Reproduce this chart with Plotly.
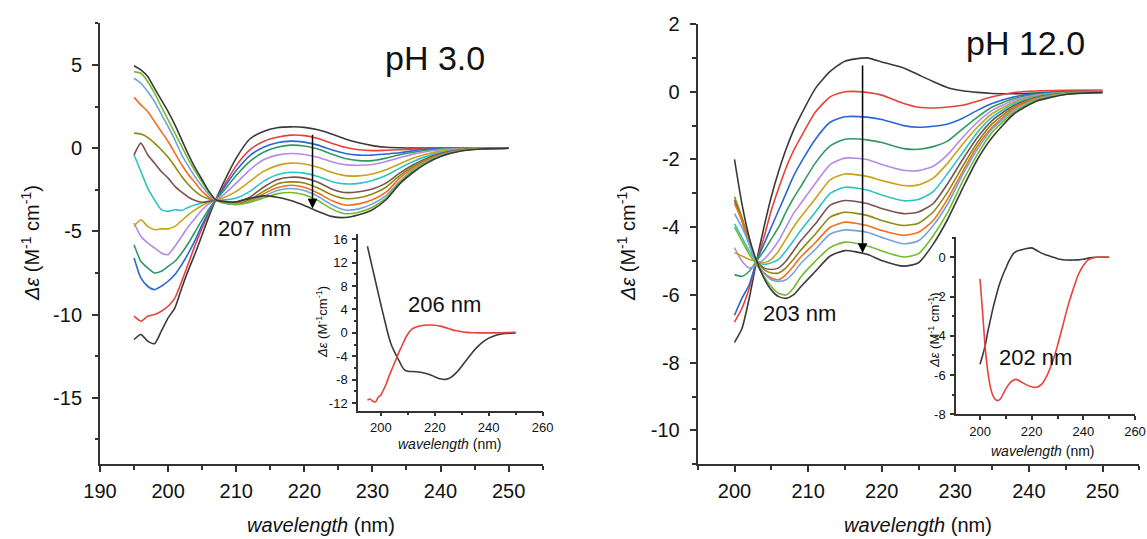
import plotly.graph_objects as go

W, H = 1147, 539

# ---------------- data ----------------
# Left panel (pH 3.0)
wl_left = [195, 196, 197, 198, 199, 200, 201, 202, 203, 204, 205, 206, 207, 208, 210, 212, 214,
           216, 218, 220, 222, 224, 226, 228, 230, 232, 234, 236, 238, 240, 243, 246, 250]
left_series = [
    [-11.5, -11.2, -11.6, -11.75, -11.0, -10.2, -9.6, -8.4, -7.3, -6.3, -5.2, -4.1, -3.1, -2.2, -0.6, 0.55, 1.0,
     1.22, 1.28, 1.25, 1.1, 0.85, 0.55, 0.32, 0.15, 0.05, 0.02, 0.0, 0.0, 0.0, 0.0, 0.02, 0.02],
    [-10.1, -10.4, -10.1, -10.0, -9.8, -9.5, -9.0, -8.0, -6.9, -5.8, -4.8, -3.9, -3.1, -2.4, -1.05, -0.1, 0.4,
     0.65, 0.78, 0.75, 0.58, 0.3, 0.05, -0.1, -0.15, -0.13, -0.1, -0.05, -0.02, 0.0, 0.0, 0.0, 0.0],
    [-6.6, -7.8, -8.3, -8.5, -8.3, -8.0, -7.6, -7.0, -6.3, -5.5, -4.6, -3.8, -3.1, -2.5, -1.35, -0.45, 0.05,
     0.32, 0.42, 0.36, 0.18, -0.1, -0.32, -0.42, -0.42, -0.35, -0.28, -0.15, -0.07, -0.03, 0.0, 0.0, 0.0],
    [-5.8, -6.8, -7.2, -7.5, -7.4, -7.1, -6.8, -6.3, -5.7, -5.0, -4.3, -3.65, -3.1, -2.65, -1.65, -0.8, -0.25,
     0.05, 0.18, 0.13, -0.05, -0.35, -0.62, -0.75, -0.75, -0.6, -0.4, -0.25, -0.13, -0.06, -0.02, 0.0, 0.0],
    [-4.5, -5.3, -5.7, -6.0, -6.3, -6.4, -5.9, -5.3, -4.7, -4.2, -3.7, -3.35, -3.1, -2.85, -2.1, -1.3, -0.7,
     -0.42, -0.32, -0.38, -0.55, -0.82, -1.0, -1.03, -0.98, -0.8, -0.58, -0.36, -0.2, -0.1, -0.03, 0.0, 0.0],
    [-4.7, -4.3, -4.7, -4.9, -4.85, -4.85, -4.7, -4.35, -4.0, -3.7, -3.45, -3.25, -3.1, -3.0, -2.6, -2.0, -1.4,
     -1.05, -0.9, -0.95, -1.15, -1.45, -1.65, -1.67, -1.55, -1.3, -0.95, -0.6, -0.35, -0.18, -0.05, -0.01, 0.0],
    [-0.4, -1.4, -2.4, -3.1, -3.7, -3.8, -3.7, -3.75, -3.55, -3.4, -3.3, -3.2, -3.12, -3.12, -3.0, -2.6, -2.0,
     -1.6, -1.45, -1.5, -1.7, -2.0, -2.15, -2.12, -1.95, -1.65, -1.2, -0.8, -0.48, -0.26, -0.08, -0.02, 0.0],
    [-0.4, 0.3, -0.4, -0.9, -1.4, -1.8, -2.3, -2.65, -2.95, -3.15, -3.25, -3.2, -3.15, -3.2, -3.25, -2.95, -2.35,
     -1.9, -1.75, -1.8, -2.05, -2.45, -2.67, -2.62, -2.45, -2.1, -1.5, -1.0, -0.6, -0.33, -0.1, -0.03, 0.0],
    [0.9, 0.85, 0.65, 0.3, -0.1, -0.55, -1.1, -1.7, -2.2, -2.6, -2.9, -3.05, -3.12, -3.25, -3.32, -3.1, -2.6,
     -2.15, -2.03, -2.1, -2.4, -2.8, -3.03, -2.98, -2.75, -2.35, -1.65, -1.1, -0.68, -0.38, -0.12, -0.03, 0.0],
    [3.05, 2.6, 2.2, 1.6, 1.0, 0.4, -0.3, -1.0, -1.6, -2.1, -2.6, -2.95, -3.12, -3.28, -3.38, -3.2, -2.75,
     -2.38, -2.23, -2.35, -2.7, -3.15, -3.42, -3.35, -3.1, -2.65, -1.8, -1.2, -0.75, -0.42, -0.14, -0.04, 0.0],
    [4.2, 3.9, 3.4, 2.8, 2.05, 1.3, 0.5, -0.4, -1.1, -1.75, -2.3, -2.8, -3.12, -3.28, -3.38, -3.25, -2.9,
     -2.55, -2.43, -2.55, -2.9, -3.4, -3.72, -3.65, -3.35, -2.85, -2.0, -1.3, -0.8, -0.45, -0.15, -0.04, 0.0],
    [4.6, 4.5, 4.0, 3.3, 2.5, 1.7, 0.9, 0.1, -0.7, -1.4, -2.05, -2.65, -3.1, -3.28, -3.38, -3.25, -3.0,
     -2.75, -2.67, -2.8, -3.15, -3.65, -3.94, -3.85, -3.55, -3.0, -2.05, -1.35, -0.85, -0.48, -0.16, -0.04, 0.0],
    [4.95, 4.7, 4.3, 3.6, 2.9, 2.2, 1.4, 0.5, -0.4, -1.2, -1.9, -2.6, -3.1, -3.2, -3.22, -3.02, -2.87,
     -2.95, -3.15, -3.45, -3.8, -4.1, -4.17, -4.0, -3.7, -3.1, -2.15, -1.45, -0.9, -0.5, -0.17, -0.05, 0.0],
]

# Right panel (pH 12.0)
wl_right = [200, 201, 202, 203, 204, 205, 206, 207, 208, 209, 211, 213, 215, 218, 220, 223, 225, 227,
            229, 231, 233, 235, 238, 241, 245, 250]
right_series = [
    [-7.4, -7.0, -6.1, -5.0, -4.0, -3.1, -2.35, -1.7, -1.15, -0.7, 0.1, 0.6, 0.9, 1.0, 0.88, 0.7, 0.5, 0.3,
     0.12, 0.03, -0.02, -0.05, -0.06, -0.04, 0.0, 0.0],
    [-6.8, -6.4, -5.8, -5.0, -4.3, -3.5, -2.85, -2.25, -1.75, -1.35, -0.6, -0.15, 0.0, -0.02, -0.1, -0.35, -0.46, -0.48,
     -0.45, -0.4, -0.28, -0.15, -0.02, 0.02, 0.04, 0.05],
    [-6.6, -6.1, -5.7, -5.0, -4.5, -4.0, -3.5, -3.0, -2.5, -2.1, -1.4, -0.9, -0.74, -0.75, -0.82, -1.0, -1.05, -1.02,
     -0.95, -0.78, -0.55, -0.35, -0.15, -0.05, 0.0, 0.0],
    [-5.4, -5.45, -5.3, -5.0, -4.7, -4.35, -4.0, -3.55, -3.15, -2.8, -2.1, -1.6, -1.4, -1.42, -1.5, -1.68, -1.7, -1.62,
     -1.45, -1.1, -0.75, -0.45, -0.2, -0.08, -0.02, 0.0],
    [-4.6, -5.0, -5.2, -5.1, -4.95, -4.7, -4.4, -4.0, -3.6, -3.3, -2.7, -2.15, -1.96, -2.0, -2.15, -2.32, -2.33, -2.2,
     -1.85, -1.35, -0.9, -0.55, -0.25, -0.1, -0.03, -0.01],
    [-4.75, -4.85, -4.95, -5.0, -5.05, -4.95, -4.7, -4.35, -4.0, -3.7, -3.15, -2.6, -2.43, -2.5, -2.62, -2.77, -2.75, -2.55,
     -2.1, -1.55, -1.05, -0.65, -0.3, -0.12, -0.04, -0.01],
    [-3.9, -4.3, -4.7, -5.0, -5.1, -5.05, -4.95, -4.7, -4.4, -4.1, -3.55, -3.0, -2.82, -2.9, -3.05, -3.22, -3.18, -2.95,
     -2.4, -1.8, -1.2, -0.75, -0.35, -0.14, -0.04, -0.01],
    [-3.2, -3.8, -4.5, -5.0, -5.2, -5.25, -5.2, -5.0, -4.7, -4.4, -3.9, -3.35, -3.21, -3.3, -3.45, -3.6, -3.55, -3.3,
     -2.7, -2.0, -1.35, -0.85, -0.4, -0.16, -0.05, -0.02],
    [-3.1, -3.7, -4.4, -5.0, -5.25, -5.35, -5.35, -5.2, -4.95, -4.68, -4.2, -3.7, -3.56, -3.65, -3.8, -3.95, -3.88, -3.55,
     -2.95, -2.2, -1.5, -0.95, -0.45, -0.18, -0.05, -0.02],
    [-3.3, -3.8, -4.5, -5.05, -5.35, -5.5, -5.55, -5.4, -5.15, -4.88, -4.45, -4.0, -3.85, -3.95, -4.1, -4.24, -4.15, -3.8,
     -3.15, -2.35, -1.6, -1.05, -0.5, -0.2, -0.06, -0.02],
    [-3.6, -4.0, -4.5, -5.05, -5.35, -5.55, -5.6, -5.55, -5.35, -5.07, -4.65, -4.2, -4.08, -4.15, -4.3, -4.49, -4.4, -3.95,
     -3.3, -2.45, -1.7, -1.1, -0.55, -0.22, -0.06, -0.02],
    [-4.0, -4.4, -4.8, -5.1, -5.45, -5.75, -5.95, -6.0, -5.8, -5.47, -5.0, -4.6, -4.44, -4.55, -4.7, -4.88, -4.78, -4.25,
     -3.55, -2.65, -1.85, -1.2, -0.6, -0.25, -0.07, -0.02],
    [-2.0, -3.3, -4.3, -5.0, -5.5, -5.85, -6.05, -6.1, -6.0, -5.76, -5.3, -4.85, -4.69, -4.8, -4.98, -5.15, -5.05, -4.5,
     -3.75, -2.85, -2.0, -1.35, -0.65, -0.28, -0.08, -0.02],
]

# Left inset
wl_inset_left = [195, 196, 197, 198, 199, 200, 201, 202, 203, 204, 205, 206, 207, 208, 209, 210, 211, 212,
                 214, 216, 218, 220, 222, 224, 226, 228, 230, 232, 234, 236, 238, 240, 243, 246, 250]
inset_left_black = [14.8, 12.8, 10.8, 8.8, 6.8, 4.8, 2.9, 1.0, -0.8, -2.2, -3.2, -4.1, -5.0, -5.9, -6.4, -6.55,
                    -6.6, -6.6, -6.7, -6.85, -7.1, -7.5, -7.85, -7.95, -7.6, -6.8, -5.7, -4.5, -3.3, -2.3, -1.5,
                    -0.9, -0.35, -0.1, 0.0]
inset_left_red = [-11.5, -11.3, -11.7, -11.8, -11.0, -10.6, -9.7, -8.7, -7.4, -6.3, -5.2, -4.1, -3.0, -2.0, -1.0,
                  -0.2, 0.4, 0.8, 1.15, 1.3, 1.35, 1.3, 1.15, 0.9, 0.6, 0.35, 0.2, 0.08, 0.03, 0.0, 0.0, 0.0,
                  0.0, 0.05, 0.1]

# Right inset
wl_inset_right = [200, 201, 202, 203, 204, 205, 206, 207, 208, 209, 210, 211, 212, 213, 214, 216, 218, 220,
                  222, 224, 226, 228, 230, 232, 234, 236, 238, 240, 242, 245, 250]
inset_right_black = [-5.45, -5.0, -4.5, -3.8, -3.2, -2.6, -2.1, -1.6, -1.2, -0.85, -0.55, -0.25, 0.0, 0.2, 0.3,
                     0.38, 0.45, 0.48, 0.35, 0.2, 0.1, 0.02, -0.07, -0.12, -0.14, -0.14, -0.13, -0.1, -0.04,
                     0.0, 0.0]
inset_right_red = [-1.1, -2.8, -4.6, -5.8, -6.6, -7.05, -7.25, -7.3, -7.2, -6.95, -6.7, -6.5, -6.35, -6.25, -6.22,
                   -6.35, -6.5, -6.6, -6.62, -6.45, -6.0, -5.35, -4.5, -3.5, -2.5, -1.65, -0.9, -0.42, -0.12,
                   0.0, 0.0]

# tick labels (hyphen minus as in the original)
ticks_left_y = [5, 0, -5, -10, -15]
ticks_right_y = [2, 0, -2, -4, -6, -8, -10]
ticks_left_x = [190, 200, 210, 220, 230, 240, 250]
ticks_right_x = [200, 210, 220, 230, 240, 250]
ticks_inset_x = [200, 220, 240, 260]
ticks_inset_left_y = [16, 12, 8, 4, 0, -4, -8, -12]
ticks_inset_right_y = [0, -2, -4, -6, -8]

colors = ['#3a3a3a', '#e8413c', '#2a66d6', '#2e9a62', '#b48ae6', '#c9a21a', '#2cc3c8',
          '#7b5252', '#8c8a14', '#f26f1e', '#74a3dc', '#73bb2e', '#3a3a3a']

# ---------------- figure ----------------
fig = go.Figure()
LW = 1.6
for s, c in zip(left_series, colors):
    fig.add_trace(go.Scatter(x=wl_left, y=s, mode='lines', xaxis='x', yaxis='y',
                             line=dict(color=c, width=LW, shape='spline', smoothing=0.6),
                             showlegend=False, hoverinfo='skip'))
for s, c in zip(right_series, colors):
    fig.add_trace(go.Scatter(x=wl_right, y=s, mode='lines', xaxis='x2', yaxis='y2',
                             line=dict(color=c, width=LW, shape='spline', smoothing=0.6),
                             showlegend=False, hoverinfo='skip'))
fig.add_trace(go.Scatter(x=wl_inset_left, y=inset_left_black, mode='lines', xaxis='x3', yaxis='y3',
                         line=dict(color='#3a3a3a', width=LW, shape='spline', smoothing=0.6), showlegend=False))
fig.add_trace(go.Scatter(x=wl_inset_left, y=inset_left_red, mode='lines', xaxis='x3', yaxis='y3',
                         line=dict(color='#e8413c', width=LW, shape='spline', smoothing=0.6), showlegend=False))
fig.add_trace(go.Scatter(x=wl_inset_right, y=inset_right_black, mode='lines', xaxis='x4', yaxis='y4',
                         line=dict(color='#3a3a3a', width=LW, shape='spline', smoothing=0.6), showlegend=False))
fig.add_trace(go.Scatter(x=wl_inset_right, y=inset_right_red, mode='lines', xaxis='x4', yaxis='y4',
                         line=dict(color='#e8413c', width=LW, shape='spline', smoothing=0.6), showlegend=False))

FONT = 'Liberation Sans, Arial, sans-serif'
AX = '#333333'
TXT = '#111111'


def px(x):
    return x / W


def py(y):
    return 1 - y / H


def axis(domain, rng, tickvals, minor_dtick, size, anchor, tick0=0, ticklen=6, minorlen=3.5, lw=2,
         standoff=4):
    return dict(domain=domain, range=rng, anchor=anchor, automargin=False,
                tickmode='array', tickvals=tickvals, ticktext=[str(v) for v in tickvals],
                showline=True, linecolor=AX, linewidth=lw, ticks='outside', ticklen=ticklen,
                tickwidth=1.5, tickcolor=AX, showgrid=False, zeroline=False,
                ticklabelstandoff=standoff,
                tickfont=dict(family=FONT, size=size, color=TXT),
                minor=dict(dtick=minor_dtick, tick0=tick0, ticks='outside', ticklen=minorlen,
                           tickwidth=1.5, tickcolor=AX, showgrid=False))


fig.update_layout(
    template='none',
    width=W, height=H, margin=dict(l=0, r=0, t=0, b=0, pad=0, autoexpand=False),
    paper_bgcolor='white', plot_bgcolor='rgba(0,0,0,0)', showlegend=False,
    xaxis=axis([px(100), px(542.7)], [190, 255], ticks_left_x, 5, 20, 'y', tick0=190, standoff=2),
    yaxis=axis([py(464.3), py(23)], [-19.0, 7.52], ticks_left_y, 2.5, 20, 'x', standoff=6),
    xaxis2=axis([px(697.7), px(1139.3)], [195, 255], ticks_right_x, 5, 20, 'y2', tick0=190, standoff=2),
    yaxis2=axis([py(464.3), py(24)], [-11.0, 2.0], ticks_right_y, 1, 20, 'x2', standoff=6),
    xaxis3=axis([px(358), px(542.6)], [191.5, 260], ticks_inset_x, 10, 13, 'y3', tick0=200,
                ticklen=4, minorlen=2.5, lw=1.5, standoff=0),
    yaxis3=axis([py(410.7), py(234)], [-13.3, 16.9], ticks_inset_left_y, 2, 13, 'x3',
                ticklen=4, minorlen=2.5, lw=1.5, standoff=2),
    xaxis4=axis([px(956), px(1135)], [190.7, 260], ticks_inset_x, 10, 13, 'y4', tick0=200,
                ticklen=4, minorlen=2.5, lw=1.5, standoff=0),
    yaxis4=axis([py(414.3), py(237.3)], [-8.0, 1.02], ticks_inset_right_y, 1, 13, 'x4',
                ticklen=4, minorlen=2.5, lw=1.5, standoff=2),
)

ylab = '<i>Δε</i> (M<sup>-1</sup> cm<sup>-1</sup>)'
ylab_in = '<i>Δε</i> (M<sup>-1</sup>cm<sup>-1</sup>)'
xlab = '<i>wavelength</i> (nm)'

ann = []


def text(x, y, t, size, angle=0):
    ann.append(dict(x=px(x), y=py(y), xref='paper', yref='paper', text=t, showarrow=False,
                    font=dict(family=FONT, size=size, color=TXT), textangle=angle,
                    xanchor='center', yanchor='middle'))


text(321, 525, xlab, 20)
text(918, 525, xlab, 20)
text(30, 243, ylab, 20, -90)
text(626, 243, ylab, 20, -90)
text(450, 444, xlab, 14)
text(1043, 451, xlab, 14)
text(322, 322, ylab_in, 13, -90)
text(934, 330, ylab, 13, -90)
text(435, 58, 'pH 3.0', 34)
text(1025, 43, 'pH 12.0', 34)
text(254, 228, '207 nm', 22)
text(444, 304, '206 nm', 22)
text(799.5, 313, '203 nm', 22)
text(1035, 357, '202 nm', 22)

arrow_left = dict(x=221.2, y_top=0.89, y_tip=-3.63)
arrow_right = dict(x=217.4, y_top=0.82, y_tip=-4.76)
ann.append(dict(x=arrow_left['x'], y=arrow_left['y_tip'], ax=arrow_left['x'], ay=arrow_left['y_top'],
                xref='x', yref='y', axref='x', ayref='y', text='', showarrow=True,
                arrowhead=2, arrowsize=1.3, arrowwidth=1.5, arrowcolor='#000000'))
ann.append(dict(x=arrow_right['x'], y=arrow_right['y_tip'], ax=arrow_right['x'], ay=arrow_right['y_top'],
                xref='x2', yref='y2', axref='x2', ayref='y2', text='', showarrow=True,
                arrowhead=2, arrowsize=1.3, arrowwidth=1.5, arrowcolor='#000000'))

fig.update_layout(annotations=ann)
fig.write_html('out.html')
